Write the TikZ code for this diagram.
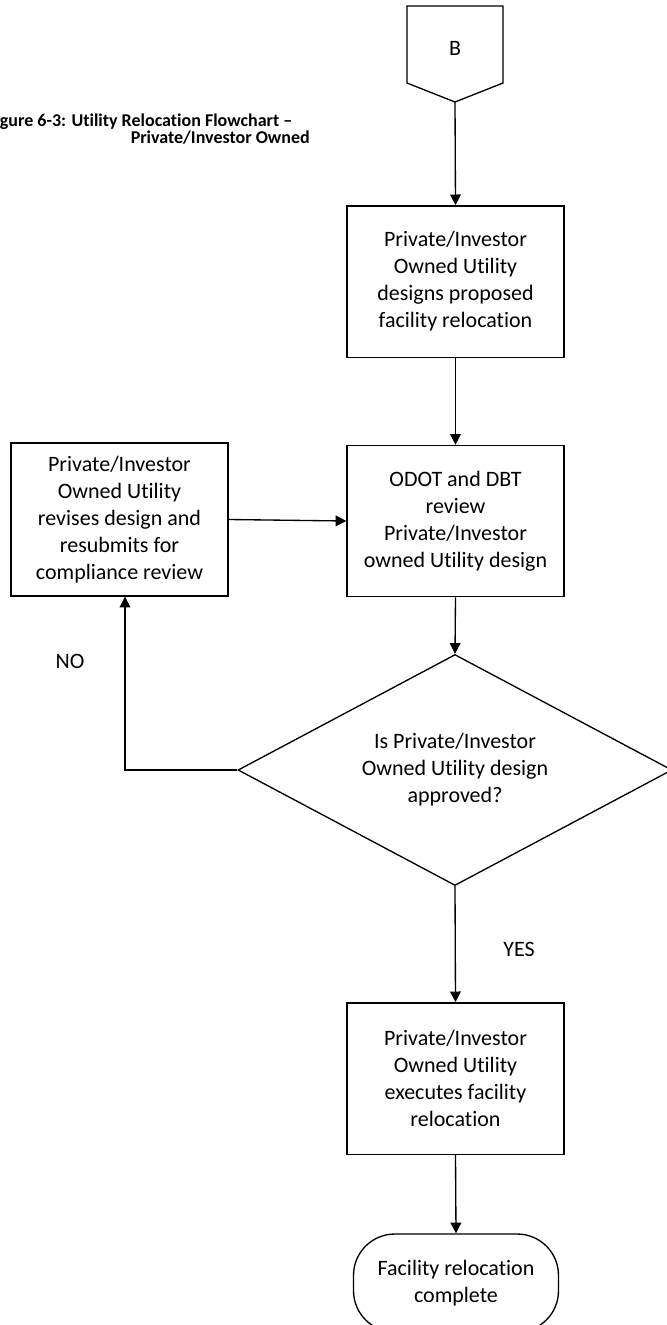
\documentclass[tikz,border=0pt]{standalone}
\usepackage{fontspec}
\setmainfont[Ligatures={NoCommon}]{Carlito}
\usepackage{tikz}
\usetikzlibrary{shapes.geometric,arrows.meta}

\begin{document}
\begin{tikzpicture}[x=0.75pt,y=-0.75pt,
	every node/.style={font=\fontsize{16.5}{20.25}\selectfont},
	procbox/.style={draw,line width=1pt,align=center,inner sep=0pt,minimum width=162.75pt,minimum height=113.5pt},
	decbox/.style={draw,line width=1pt,align=center,shape=diamond,aspect=1.88,inner sep=0pt,minimum width=325.5pt,minimum height=173.25pt},
	endbox/.style={draw,line width=1pt,align=center,rounded corners=31pt,minimum width=153.75pt,minimum height=73.5pt},
	titletext/.style={font=\bfseries\fontsize{13.5}{16.5}\selectfont,inner sep=0pt},
	arr/.style={-{Triangle[length=8pt,width=8pt]},line width=1pt}]
	\useasboundingbox (0,0) rectangle (667,1325);

	\node[titletext,anchor=base west] (title1) at (-13,126) {Figure 6-3: Utility Relocation Flowchart --};
	\node[titletext,anchor=base east] (title2) at (310,143) {Private/Investor Owned};

	\draw[line width=1pt] (407,6) -- (503,6) -- (503,83) -- (455,102) -- (407,83) -- cycle;
	\node (conB) at (455,48) {B};
	\coordinate (conBtip) at (455,102);

	\node[procbox] (design) at (455.5,281.5) {Private/Investor\\Owned Utility\\designs proposed\\facility relocation};
	\node[procbox] (review) at (455.5,521) {ODOT and DBT\\review\\Private/Investor\\owned Utility design};
	\node[procbox,minimum height=114.75pt] (revise) at (119.5,519.5) {Private/Investor\\Owned Utility\\revises design and\\resubmits for\\compliance review};
	\node[decbox] (approved) at (455,770) {Is Private/Investor\\Owned Utility design\\approved?};
	\node[procbox] (execute) at (455.5,1078.5) {Private/Investor\\Owned Utility\\executes facility\\relocation};
	\node[endbox] (complete) at (456,1283) {Facility relocation\\complete};

	\coordinate (nobend) at (125,770);
	\node (no) at (70,661) {NO};
	\node (yes) at (519,949) {YES};

	\path [arr] (conBtip) edge (design.north);
	\path [arr] (design.south) edge (review.north);
	\path [arr] (review.south) edge (approved.north);
	\path [arr] (revise.east) edge (review.west);
	\path [arr] (approved.south) edge (execute.north);
	\path [arr] (execute.south) edge (complete.north);
	\draw [arr] (approved.west) -- (nobend) -- (nobend |- revise.south);
\end{tikzpicture}
\end{document}
